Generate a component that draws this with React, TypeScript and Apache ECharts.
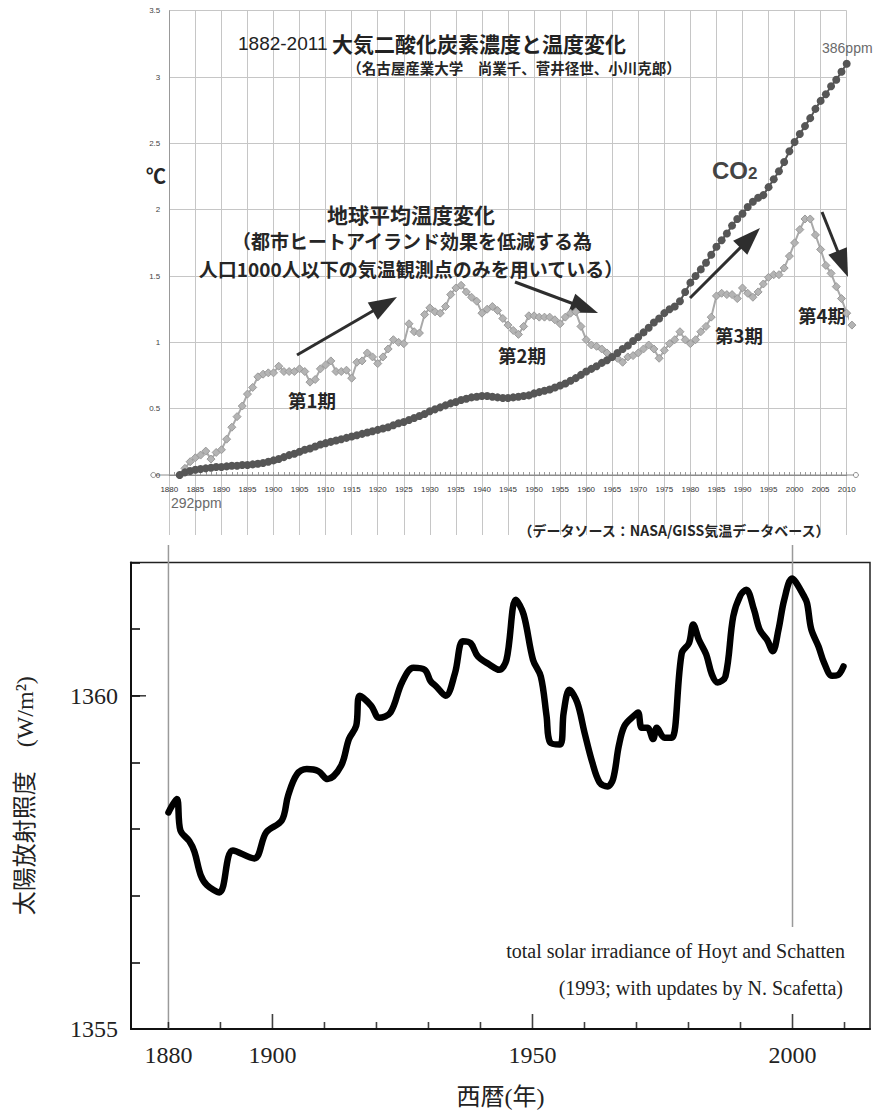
import React, { useEffect, useRef } from "react";
import * as echarts from "echarts";

// ---- Upper panel: global mean temperature change and CO2 (scaled), 1882-2011 ----
const TEMP_START = 1882;
const temperature = [
  0.0, 0.05, 0.1, 0.13, 0.15, 0.18, 0.12, 0.17, 0.19, 0.27,
  0.36, 0.44, 0.52, 0.61, 0.66, 0.74, 0.76, 0.77, 0.77, 0.82,
  0.78, 0.78, 0.78, 0.8, 0.78, 0.7, 0.72, 0.8, 0.83, 0.86,
  0.78, 0.78, 0.79, 0.73, 0.85, 0.86, 0.92, 0.89, 0.84, 0.89,
  0.95, 1.02, 1.0, 0.99, 1.14, 1.08, 1.07, 1.21, 1.26, 1.23,
  1.22, 1.27, 1.36, 1.41, 1.43, 1.38, 1.34, 1.31, 1.22, 1.25,
  1.27, 1.24, 1.18, 1.13, 1.09, 1.06, 1.12, 1.2, 1.2, 1.19,
  1.19, 1.19, 1.17, 1.14, 1.19, 1.22, 1.23, 1.12, 1.02, 0.98,
  0.97, 0.95, 0.92, 0.89, 0.88, 0.85, 0.89, 0.9, 0.92, 0.95,
  0.98, 0.95, 0.88, 0.94, 0.99, 1.02, 1.08, 1.02, 0.99, 1.02,
  1.08, 1.12, 1.19, 1.35, 1.37, 1.36, 1.36, 1.33, 1.41, 1.37,
  1.34, 1.38, 1.44, 1.49, 1.51, 1.51, 1.56, 1.65, 1.75, 1.85,
  1.93, 1.93, 1.81, 1.7, 1.58, 1.52, 1.42, 1.33, 1.22, 1.13,
];

const CO2_START = 1882;
const co2 = [
  0.0, 0.02, 0.03, 0.04, 0.045, 0.05, 0.055, 0.06, 0.06, 0.065,
  0.07, 0.07, 0.075, 0.075, 0.08, 0.085, 0.09, 0.1, 0.11, 0.12,
  0.135, 0.15, 0.16, 0.175, 0.19, 0.2, 0.215, 0.23, 0.24, 0.25,
  0.26, 0.27, 0.28, 0.29, 0.3, 0.31, 0.32, 0.33, 0.34, 0.35,
  0.36, 0.375, 0.39, 0.4, 0.415, 0.43, 0.445, 0.46, 0.48, 0.495,
  0.51, 0.525, 0.54, 0.55, 0.565, 0.575, 0.585, 0.59, 0.595, 0.595,
  0.59, 0.585, 0.58, 0.58, 0.585, 0.59, 0.595, 0.6, 0.615, 0.625,
  0.635, 0.645, 0.66, 0.675, 0.69, 0.71, 0.73, 0.755, 0.78, 0.8,
  0.82, 0.845, 0.865, 0.89, 0.92, 0.95, 0.975, 1.01, 1.04, 1.075,
  1.11, 1.15, 1.18, 1.22, 1.25, 1.27, 1.31, 1.38, 1.45, 1.5,
  1.55, 1.6, 1.66, 1.72, 1.77, 1.82, 1.88, 1.93, 1.97, 2.02,
  2.06, 2.09, 2.11, 2.17, 2.23, 2.29, 2.36, 2.44, 2.51, 2.57,
  2.63, 2.69, 2.76, 2.82, 2.87, 2.93, 2.98, 3.04, 3.1,
];

// ---- Lower panel: total solar irradiance (W/m2) ----
const solarYears = [
  1880.0, 1881.6, 1882.3, 1884.0, 1885.0, 1886.2, 1887.4, 1889.8, 1892.4, 1896.5,
  1898.8, 1901.8, 1903.0, 1904.7, 1906.6, 1908.8, 1910.6, 1913.2, 1914.7, 1916.1,
  1916.8, 1919.0, 1920.5, 1922.7, 1924.9, 1927.1, 1929.3, 1930.4, 1931.5, 1933.3,
  1935.1, 1936.6, 1938.1, 1939.5, 1941.7, 1943.6, 1945.0, 1946.8, 1948.3, 1950.1,
  1951.6, 1952.7, 1953.4, 1955.3, 1956.0, 1957.1, 1958.6, 1960.0, 1961.5, 1962.9,
  1964.4, 1965.5, 1966.6, 1967.7, 1969.5, 1970.3, 1971.0, 1972.1, 1973.2, 1973.9,
  1975.4, 1976.8, 1978.7, 1980.1, 1980.9, 1982.0, 1983.4, 1984.5, 1985.6, 1987.1,
  1988.6, 1990.0, 1991.1, 1992.6, 1993.7, 1995.1, 1996.2, 1997.3, 1998.4, 1999.9,
  2000.6, 2002.1, 2002.8, 2003.6, 2005.0, 2006.1, 2007.6, 2008.7, 2009.8,
];
const solarValues = [
  1358.25, 1358.45, 1357.98, 1357.82, 1357.66, 1357.31, 1357.16, 1357.05, 1357.68, 1357.56,
  1357.95, 1358.13, 1358.5, 1358.82, 1358.9, 1358.87, 1358.75, 1358.95, 1359.35, 1359.55,
  1360.0, 1359.85, 1359.67, 1359.75, 1360.2, 1360.42, 1360.39, 1360.22, 1360.14, 1360.0,
  1360.34, 1360.82, 1360.79, 1360.59, 1360.47, 1360.39, 1360.54, 1361.44, 1361.22, 1360.54,
  1360.29, 1359.7, 1359.3, 1359.27, 1359.75, 1360.09, 1359.9, 1359.45, 1359.0, 1358.7,
  1358.64, 1358.75, 1359.25, 1359.55, 1359.7, 1359.75, 1359.52, 1359.52, 1359.35, 1359.52,
  1359.37, 1359.37, 1360.64, 1360.79, 1361.07, 1360.84, 1360.62, 1360.32, 1360.2, 1360.29,
  1361.19, 1361.51, 1361.59, 1361.29, 1360.99, 1360.84, 1360.67, 1360.99, 1361.44, 1361.76,
  1361.71, 1361.51, 1361.39, 1361.0, 1360.74, 1360.49, 1360.3, 1360.31, 1360.44,
];

const YEAR_MIN = 1872.8;
const YEAR_MAX = 2014.9;
const IRR_MIN = 1355;
const IRR_MAX = 1362;
const solarMinorTicks = [1880, 1890, 1910, 1920, 1930, 1940, 1960, 1970, 1980, 1990, 2010];
const solarMajorTicks = [1900, 1950, 2000];
const solarYearLabels = [1880, 1900, 1950, 2000];
const irradianceLabels = [1355, 1360];
const irradianceMajorTicks = [1360];

const SANS = "'Liberation Sans', 'Noto Sans CJK JP', sans-serif";
const JP = "'Noto Sans CJK JP', sans-serif";
const SERIF = "'Liberation Serif', 'DejaVu Serif', 'Noto Sans CJK JP', serif";

function arrow(x1: number, y1: number, x2: number, y2: number, headLen = 28, headHalf = 10) {
  const dx = x2 - x1;
  const dy = y2 - y1;
  const len = Math.hypot(dx, dy);
  const ux = dx / len;
  const uy = dy / len;
  const bx = x2 - ux * headLen;
  const by = y2 - uy * headLen;
  const px = -uy;
  const py = ux;
  return [
    {
      type: "line",
      shape: { x1, y1, x2: bx + ux * 3, y2: by + uy * 3 },
      style: { stroke: "#2e2e2e", lineWidth: 3 },
    },
    {
      type: "polygon",
      shape: {
        points: [
          [x2, y2],
          [bx + px * headHalf, by + py * headHalf],
          [bx - px * headHalf, by - py * headHalf],
        ],
      },
      style: { fill: "#2e2e2e" },
    },
  ];
}

function label(text: string, x: number, y: number, size: number, opts: any = {}) {
  return {
    type: "text",
    x,
    y,
    style: {
      text,
      fontSize: size,
      lineHeight: size,
      fontWeight: opts.weight || "bold",
      fontFamily: opts.family || JP,
      fill: opts.color || "#262626",
      align: opts.align || "center",
      verticalAlign: "middle",
      rich: opts.rich,
    },
  };
}

// short upward / rightward tick marks drawn through the axis scales
function tickSeries(name: string, data: number[][], size: number[], offset: number[]) {
  return {
    name,
    type: "scatter",
    xAxisIndex: 2,
    yAxisIndex: 2,
    data,
    clip: false,
    symbol: "rect",
    symbolSize: size,
    symbolOffset: offset,
    itemStyle: { color: "#111" },
    silent: true,
    z: 6,
  };
}

export default function App() {
  const ref = useRef<HTMLDivElement>(null);

  useEffect(() => {
    if (!ref.current) return;
    const chart = echarts.init(ref.current, null, { renderer: "svg" });

    const tempData = temperature.map((v, i) => [TEMP_START + i, v]);
    const co2Data = co2.map((v, i) => [CO2_START + i, v]);
    const solarData = solarYears.map((y, i) => [y, solarValues[i]]);

    const gridLine = { color: "#c6c6c6", width: 1 };

    const option: any = {
      animation: false,
      backgroundColor: "#ffffff",
      grid: [
        { left: 169.3, top: 10.7, width: 677.4, height: 464.3 },
        { left: 169.3, top: 475, width: 677.4, height: 60 },
        {
          left: 131,
          top: 562.5,
          width: 739,
          height: 468.5,
          show: true,
          borderColor: "#222",
          borderWidth: 1.5,
          backgroundColor: "transparent",
        },
      ],
      xAxis: [
        {
          type: "value",
          gridIndex: 0,
          min: 1880,
          max: 2010,
          interval: 5,
          axisLine: { show: true, lineStyle: { color: "#8c8c8c", width: 1 } },
          axisTick: { show: true, inside: true, length: 3, lineStyle: { color: "#999" } },
          minorTick: { show: true, splitNumber: 5, length: 3, lineStyle: { color: "#999" } },
          axisLabel: {
            fontSize: 8,
            color: "#333",
            margin: 10,
            fontFamily: SANS,
            formatter: (v: number) => String(v),
          },
          splitLine: { show: true, lineStyle: gridLine },
        },
        {
          type: "value",
          gridIndex: 1,
          min: 1880,
          max: 2010,
          interval: 5,
          axisLine: { show: false },
          axisTick: { show: false },
          axisLabel: { show: false },
          splitLine: { show: true, lineStyle: gridLine },
        },
        {
          type: "value",
          gridIndex: 2,
          position: "bottom",
          min: YEAR_MIN,
          max: YEAR_MAX,
          axisLine: { show: true, lineStyle: { color: "#111", width: 2 } },
          axisTick: { show: false },
          axisLabel: {
            show: true,
            customValues: solarYearLabels,
            fontSize: 24,
            fontFamily: SERIF,
            color: "#222",
            margin: 14,
            formatter: (v: number) => String(v),
          },
          splitLine: { show: false },
          name: "西暦(年)",
          nameLocation: "middle",
          nameGap: 56,
          nameTextStyle: { fontSize: 24, fontFamily: SERIF, color: "#222" },
        },
      ],
      yAxis: [
        {
          type: "value",
          gridIndex: 0,
          min: 0,
          max: 3.5,
          interval: 0.5,
          axisLine: { show: true, lineStyle: { color: "#999", width: 1 } },
          axisTick: { show: false },
          axisLabel: { fontSize: 8, color: "#444", margin: 9, fontFamily: SANS },
          splitLine: { show: true, lineStyle: gridLine },
        },
        {
          type: "value",
          gridIndex: 1,
          min: 0,
          max: 1,
          show: false,
          splitLine: { show: false },
        },
        {
          type: "value",
          gridIndex: 2,
          position: "left",
          min: IRR_MIN,
          max: IRR_MAX,
          interval: 1,
          axisLine: { show: true, lineStyle: { color: "#111", width: 2 } },
          axisTick: { show: true, inside: true, length: 9, lineStyle: { color: "#111", width: 1.6 } },
          axisLabel: {
            fontSize: 24,
            fontFamily: SERIF,
            color: "#222",
            margin: 13,
            formatter: (v: number) => (irradianceLabels.indexOf(v) >= 0 ? String(v) : ""),
          },
          splitLine: { show: false },
          name: "太陽放射照度\u3000(W/m²)",
          nameLocation: "middle",
          nameRotate: 90,
          nameGap: 94,
          nameTextStyle: { fontSize: 24, fontFamily: SERIF, color: "#222" },
        },
      ],
      series: [
        {
          name: "地球平均温度変化",
          type: "line",
          xAxisIndex: 0,
          yAxisIndex: 0,
          data: tempData,
          clip: false,
          symbol: "diamond",
          symbolSize: 8,
          lineStyle: { color: "#a9a9a9", width: 2 },
          itemStyle: { color: "#b4b4b4", borderColor: "#9a9a9a", borderWidth: 1 },
          z: 3,
        },
        {
          name: "CO2",
          type: "line",
          xAxisIndex: 0,
          yAxisIndex: 0,
          data: co2Data,
          clip: false,
          symbol: "circle",
          symbolSize: 8,
          lineStyle: { color: "#555", width: 2 },
          itemStyle: { color: "#565656" },
          z: 4,
        },
        {
          name: "total solar irradiance",
          type: "line",
          xAxisIndex: 2,
          yAxisIndex: 2,
          data: solarData,
          smooth: 0.35,
          showSymbol: false,
          lineStyle: { color: "#000", width: 6.5, cap: "round", join: "round" },
          z: 5,
        },
        tickSeries("year ticks", solarMinorTicks.map((y) => [y, IRR_MIN]), [1.6, 7], [0, -3.5]),
        tickSeries("major year ticks", solarMajorTicks.map((y) => [y, IRR_MIN]), [1.6, 15], [0, -7.5]),
        tickSeries("major irradiance tick", irradianceMajorTicks.map((v) => [YEAR_MIN, v]), [15, 1.6], [7.5, 0]),
      ],
    };

    chart.setOption(option);

    const xTop = (v: number) => chart.convertToPixel({ xAxisIndex: 0 }, v) as number;
    const yTop = (v: number) => chart.convertToPixel({ yAxisIndex: 0 }, v) as number;
    const xBot = (v: number) => chart.convertToPixel({ xAxisIndex: 2 }, v) as number;
    const yBot = (v: number) => chart.convertToPixel({ yAxisIndex: 2 }, v) as number;

    const axisY = yTop(0);
    const axisLeft = xTop(1880) - 16;
    const axisRight = xTop(2011) + 4;

    const graphic: any[] = [
      // guide lines linking the two panels at 1880 and 2000
      {
        type: "line",
        shape: { x1: xBot(1880), y1: 545, x2: xBot(1880), y2: yBot(IRR_MIN) },
        style: { stroke: "#9a9a9a", lineWidth: 1.5 },
        z: 1,
      },
      {
        type: "line",
        shape: { x1: xBot(2000), y1: 545, x2: xBot(2000), y2: 927 },
        style: { stroke: "#9a9a9a", lineWidth: 1.5 },
        z: 1,
      },
      // extended x-axis line of the upper panel
      {
        type: "line",
        shape: { x1: axisLeft, y1: axisY, x2: axisRight, y2: axisY },
        style: { stroke: "#8c8c8c", lineWidth: 1 },
      },
      { type: "circle", shape: { cx: axisLeft, cy: axisY, r: 2.5 }, style: { fill: "#fff", stroke: "#8c8c8c" } },
      { type: "circle", shape: { cx: axisRight, cy: axisY, r: 2.5 }, style: { fill: "#fff", stroke: "#8c8c8c" } },

      // titles of the upper panel
      label("{a|1882-2011} {b|大気二酸化炭素濃度と温度変化}", 238, 43, 20, {
        align: "left",
        rich: {
          a: { fontSize: 19, lineHeight: 20, fontFamily: SANS, fontWeight: "normal", fill: "#222" },
          b: { fontSize: 21, lineHeight: 20, fontFamily: JP, fontWeight: "bold", fill: "#222" },
        },
      }),
      label("（名古屋産業大学\u3000尚業千、菅井径世、小川克郎）", 514, 67, 14.5),
      label("℃", 156, 177, 20, { family: SANS, weight: "bold" }),
      label("386ppm", 822, 48, 14, { align: "left", family: SANS, weight: "normal", color: "#6a6a6a" }),
      label("292ppm", 171, 503, 14, { align: "left", family: SANS, weight: "normal", color: "#6a6a6a" }),
      label("{c|CO}{s|2}", 712, 170, 24, {
        align: "left",
        rich: {
          c: { fontSize: 24, fontFamily: SANS, fontWeight: "bold", fill: "#444" },
          s: { fontSize: 17, fontFamily: SANS, fontWeight: "bold", fill: "#444", padding: [6, 0, 0, 0] },
        },
      }),
      label("地球平均温度変化", 411, 214, 21),
      label("（都市ヒートアイランド効果を低減する為", 412, 240, 19),
      label("人口1000人以下の気温観測点のみを用いている）", 411, 268, 19),
      label("第1期", 312, 400, 18.5),
      label("第2期", 522, 355, 18.5),
      label("第3期", 739, 335, 18.5),
      label("第4期", 822, 315, 18.5),
      label("（データソース：NASA/GISS気温データベース）", 674, 530, 14),

      // notes of the lower panel
      label("total solar irradiance of Hoyt and Schatten", 845, 951, 20, {
        align: "right",
        family: SERIF,
        weight: "normal",
        color: "#222",
      }),
      label("(1993; with updates by N. Scafetta)", 843, 988, 20, {
        align: "right",
        family: SERIF,
        weight: "normal",
        color: "#222",
      }),
      ...arrow(297, 355, 397, 297),
      ...arrow(515, 282, 598, 313),
      ...arrow(690, 298, 760, 228),
      ...arrow(822, 212, 848, 277),
    ];

    chart.setOption({ graphic });

    return () => chart.dispose();
  }, []);

  return (
    <div
      ref={ref}
      style={{ position: "absolute", left: 0, top: 0, width: 877, height: 1110, background: "#fff" }}
    />
  );
}
